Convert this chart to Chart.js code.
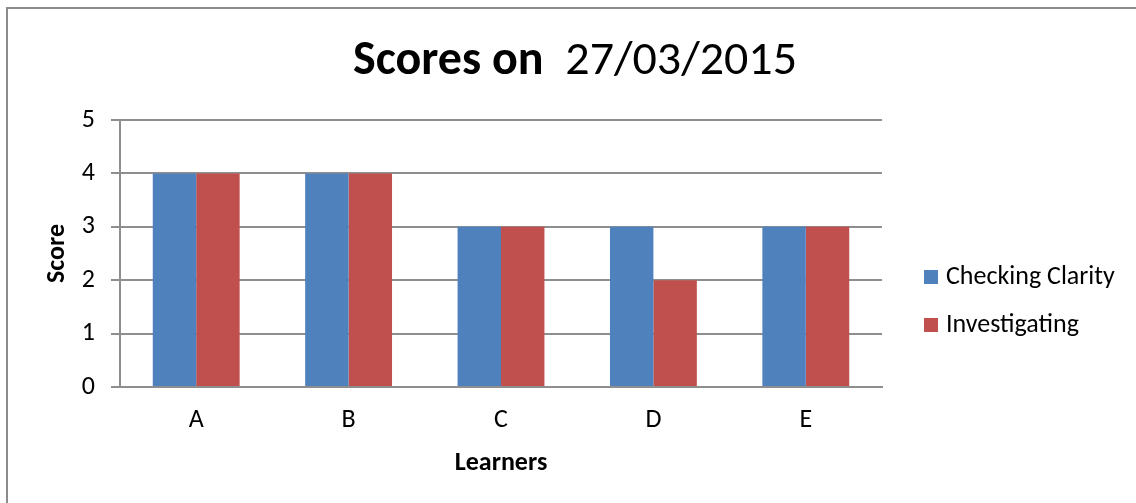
<!DOCTYPE html>
<html>
<head>
<meta charset="utf-8">
<script src="https://cdn.jsdelivr.net/npm/chart.js@4.4.1/dist/chart.umd.min.js"></script>
<style>
html, body { margin: 0; padding: 0; background: #fff; overflow: hidden; }
#frame { position: absolute; left: 6px; top: 7px; width: 1300px; height: 700px;
         border-left: 2px solid #8c8c8c; border-top: 2px solid #8c8c8c; }
#scoresChart { position: absolute; left: 0; top: 0; }
</style>
</head>
<body>
<div id="frame"></div>
<canvas id="scoresChart" width="1136" height="503"></canvas>
<script>
// Chart data
const learners = ["A", "B", "C", "D", "E"];
const checkingClarity = [4, 4, 3, 3, 3];
const investigating = [4, 4, 3, 2, 3];
const seriesNames = ["Checking Clarity", "Investigating"];
const seriesColors = ["#4F81BD", "#C0504D"];
const titleBold = "Scores on";
const titleDate = "27/03/2015";

const FONT = "Carlito, Lato, sans-serif";
const GRID = "#8e8e8e";

// Title with a bold part and a regular part
const mixedTitle = {
    id: 'mixedTitle',
    afterDraw(chart) {
        const ctx = chart.ctx;
        ctx.save();
        ctx.fillStyle = '#000';
        ctx.textBaseline = 'alphabetic';
        ctx.textAlign = 'left';
        ctx.font = 'bold 48px ' + FONT;
        const w1 = ctx.measureText(titleBold + '  ').width;
        ctx.font = '48px ' + FONT;
        const w2 = ctx.measureText(titleDate).width;
        const x0 = 575 - (w1 + w2) / 2;
        ctx.font = 'bold 48px ' + FONT;
        ctx.fillText(titleBold, x0, 74);
        ctx.font = '48px ' + FONT;
        ctx.fillText(titleDate, x0 + w1, 74);
        ctx.restore();
    }
};

// Legend on the right, built from the datasets
const sideLegend = {
    id: 'sideLegend',
    afterDraw(chart) {
        const ctx = chart.ctx;
        ctx.save();
        ctx.font = '26px ' + FONT;
        ctx.textBaseline = 'middle';
        ctx.textAlign = 'left';
        chart.data.datasets.forEach((ds, i) => {
            const cy = 277 + i * 48;
            ctx.fillStyle = ds.backgroundColor;
            ctx.fillRect(924, cy - 7, 14, 14);
            ctx.fillStyle = '#000';
            ctx.fillText(ds.label, 946, cy);
        });
        ctx.restore();
    }
};

const ctx = document.getElementById('scoresChart').getContext('2d');
const scoresChart = new Chart(ctx, {
    type: 'bar',
    data: {
        labels: learners,
        datasets: [{
            label: seriesNames[0],
            data: checkingClarity,
            backgroundColor: seriesColors[0],
            borderWidth: 0,
            categoryPercentage: 0.57,
            barPercentage: 1
        }, {
            label: seriesNames[1],
            data: investigating,
            backgroundColor: seriesColors[1],
            borderWidth: 0,
            categoryPercentage: 0.57,
            barPercentage: 1
        }]
    },
    options: {
        responsive: false,
        animation: false,
        devicePixelRatio: 1,
        layout: { padding: { left: 0, top: 120, right: 254, bottom: 0 } },
        plugins: {
            legend: { display: false },
            title: { display: false },
            tooltip: { enabled: false }
        },
        scales: {
            x: {
                afterFit(scale) { scale.height = 116; },
                grid: { display: false, drawTicks: false },
                border: { display: true, color: GRID, width: 2 },
                ticks: { color: '#000', font: { family: FONT, size: 26 }, padding: 18 },
                title: {
                    display: true, text: 'Learners', color: '#000',
                    font: { family: FONT, size: 26, weight: 'bold' },
                    padding: { top: 24, bottom: 24 }
                }
            },
            y: {
                min: 0, max: 5,
                afterFit(scale) { scale.width = 120; },
                grid: { color: GRID, lineWidth: 2, tickLength: 9, drawTicks: true },
                border: { display: true, color: GRID, width: 2 },
                ticks: { stepSize: 1, color: '#000', font: { family: FONT, size: 26 }, padding: 16 },
                title: {
                    display: true, text: 'Score', color: '#000',
                    font: { family: FONT, size: 26, weight: 'bold' },
                    padding: { top: 42, bottom: 42 }
                }
            }
        }
    },
    plugins: [mixedTitle, sideLegend]
});
</script>
</body>
</html>
